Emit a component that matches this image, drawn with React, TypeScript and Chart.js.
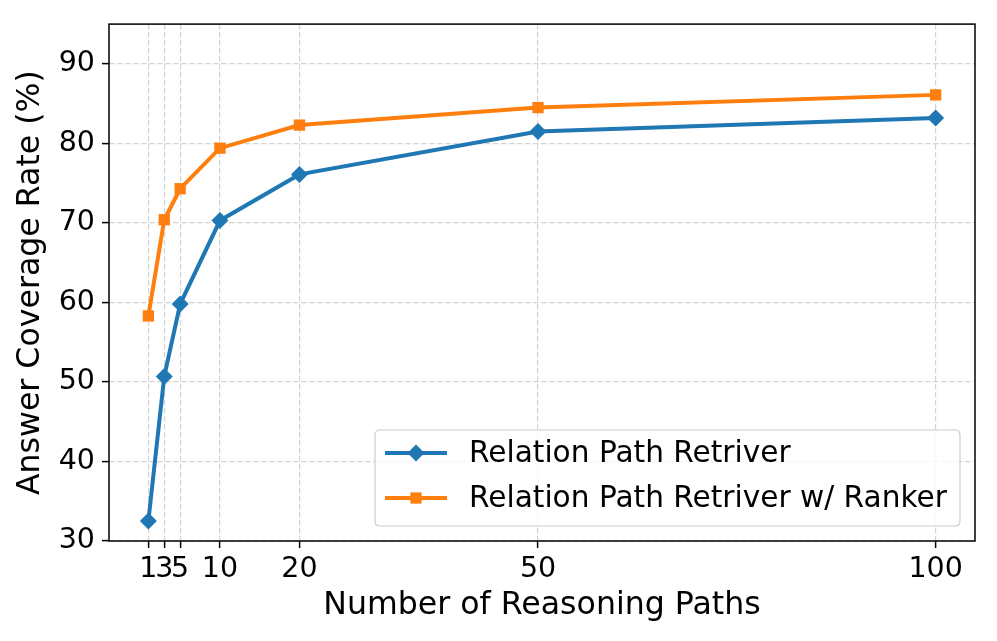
import React, { useEffect, useRef } from "react";
import { Chart, registerables } from "chart.js";

Chart.register(...registerables);

const xValues = [1, 3, 5, 10, 20, 50, 100];
const retriever = [32.5, 50.7, 59.8, 70.3, 76.1, 81.5, 83.2];
const withRanker = [58.3, 70.4, 74.3, 79.4, 82.3, 84.5, 86.1];
const yTicks = [30, 40, 50, 60, 70, 80, 90];
const seriesLabels = ["Relation Path Retriver", "Relation Path Retriver w/ Ranker"];
const xTitle = "Number of Reasoning Paths";
const yTitle = "Answer Coverage Rate (%)";

const FONT = "'DejaVu Sans', sans-serif";

function drawMarker(ctx: CanvasRenderingContext2D, style: string, x: number, y: number, r: number) {
  ctx.beginPath();
  if (style === "rectRot") {
    ctx.moveTo(x, y - r);
    ctx.lineTo(x + r, y);
    ctx.lineTo(x, y + r);
    ctx.lineTo(x - r, y);
    ctx.closePath();
  } else {
    const s = r * Math.SQRT1_2;
    ctx.rect(x - s, y - s, 2 * s, 2 * s);
  }
  ctx.fill();
}

const framePlugin = {
  id: "frameAndLegend",
  afterDatasetsDraw(chart: any) {
    const ctx: CanvasRenderingContext2D = chart.ctx;
    const a = chart.chartArea;
    ctx.save();
    ctx.strokeStyle = "#000";
    ctx.lineWidth = 1.5;
    ctx.strokeRect(a.left, a.top, a.right - a.left, a.bottom - a.top);

    // legend (matplotlib style, lower right)
    const bx = 375, by = 430, bw = 585, bh = 96, rad = 5;
    ctx.beginPath();
    ctx.moveTo(bx + rad, by);
    ctx.lineTo(bx + bw - rad, by);
    ctx.quadraticCurveTo(bx + bw, by, bx + bw, by + rad);
    ctx.lineTo(bx + bw, by + bh - rad);
    ctx.quadraticCurveTo(bx + bw, by + bh, bx + bw - rad, by + bh);
    ctx.lineTo(bx + rad, by + bh);
    ctx.quadraticCurveTo(bx, by + bh, bx, by + bh - rad);
    ctx.lineTo(bx, by + rad);
    ctx.quadraticCurveTo(bx, by, bx + rad, by);
    ctx.closePath();
    ctx.fillStyle = "rgba(255,255,255,0.8)";
    ctx.fill();
    ctx.strokeStyle = "#cccccc";
    ctx.lineWidth = 1.2;
    ctx.stroke();

    const rows = [453, 498];
    chart.data.datasets.forEach((ds: any, i: number) => {
      const y = rows[i];
      ctx.strokeStyle = ds.borderColor;
      ctx.lineWidth = ds.borderWidth;
      ctx.beginPath();
      ctx.moveTo(385, y);
      ctx.lineTo(447, y);
      ctx.stroke();
      ctx.fillStyle = ds.borderColor;
      drawMarker(ctx, ds.pointStyle, 416, y, ds.pointRadius);
      ctx.fillStyle = "#000";
      ctx.font = `29.6px ${FONT}`;
      ctx.textBaseline = "middle";
      ctx.textAlign = "left";
      ctx.fillText(ds.label, 469, y + 1);
    });
    ctx.restore();
  },
};

export default function App() {
  const ref = useRef<HTMLCanvasElement | null>(null);
  useEffect(() => {
    document.body.style.margin = "0";
    const canvas = ref.current!;
    const chart = new Chart(canvas, {
      type: "line",
      data: {
        datasets: [
          {
            label: seriesLabels[0],
            data: xValues.map((x, i) => ({ x, y: retriever[i] })),
            borderColor: "#1f77b4",
            backgroundColor: "#1f77b4",
            borderWidth: 4,
            pointStyle: "rectRot",
            pointRadius: 8.5,
            pointBorderWidth: 0,
            tension: 0,
          },
          {
            label: seriesLabels[1],
            data: xValues.map((x, i) => ({ x, y: withRanker[i] })),
            borderColor: "#ff7f0e",
            backgroundColor: "#ff7f0e",
            borderWidth: 4,
            pointStyle: "rect",
            pointRadius: 8,
            pointBorderWidth: 0,
            tension: 0,
          },
        ],
      },
      options: {
        animation: false,
        responsive: true,
        maintainAspectRatio: false,
        layout: { autoPadding: false, padding: { top: 21, right: 22, left: 0, bottom: 0 } },
        plugins: { legend: { display: false }, tooltip: { enabled: false } },
        scales: {
          x: {
            type: "linear",
            min: -3.95,
            max: 104.95,
            afterBuildTicks: (axis: any) => {
              axis.ticks = xValues.map((v) => ({ value: v }));
            },
            afterFit: (axis: any) => {
              axis.height = 100;
            },
            ticks: {
              autoSkip: false,
              maxRotation: 0,
              minRotation: 0,
              padding: 4,
              color: "#000",
              font: { family: FONT, size: 28.5 },
              callback: (v: any) => String(v),
            },
            grid: {
              color: "#d4d4d4",
              lineWidth: 1.2,
              tickColor: "#000",
              tickWidth: 1.5,
              tickLength: 7,
              tickBorderDash: [],
            } as any,
            border: { display: false, dash: [5.5, 2.5] },
            title: {
              display: true,
              text: xTitle,
              color: "#000",
              font: { family: FONT, size: 31.6 },
              padding: { top: 0, bottom: 16 },
            },
          },
          y: {
            type: "linear",
            min: 30,
            max: 95,
            afterBuildTicks: (axis: any) => {
              axis.ticks = yTicks.map((v) => ({ value: v }));
            },
            afterFit: (axis: any) => {
              axis.width = 109;
            },
            ticks: {
              padding: 7,
              color: "#000",
              font: { family: FONT, size: 28.5 },
              callback: (v: any) => String(v),
            },
            grid: {
              color: "#d4d4d4",
              lineWidth: 1.2,
              tickColor: "#000",
              tickWidth: 1.5,
              tickLength: 7,
              tickBorderDash: [],
            } as any,
            border: { display: false, dash: [5.5, 2.5] },
            title: {
              display: true,
              text: yTitle,
              color: "#000",
              font: { family: FONT, size: 31.6 },
              padding: { top: 12, bottom: 0 },
            },
          },
        },
      },
      plugins: [framePlugin],
    });
    return () => chart.destroy();
  }, []);
  return (
    <div style={{ position: "fixed", left: 0, top: 0, width: 997, height: 641, background: "#fff" }}>
      <canvas ref={ref} />
    </div>
  );
}
